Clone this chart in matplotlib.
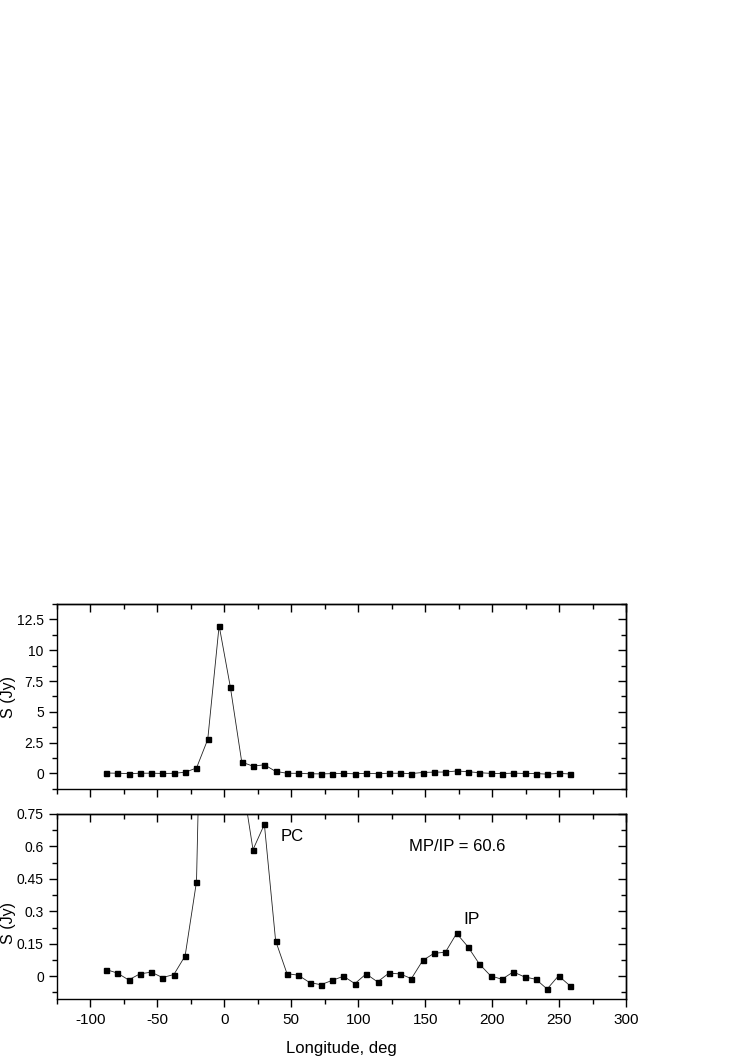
import matplotlib
matplotlib.use("Agg")
import matplotlib.pyplot as plt
from matplotlib.ticker import MultipleLocator

plt.rcParams['font.family'] = ['Liberation Sans', 'DejaVu Sans']

# pulse profile: longitude (deg) and flux density (Jy)
longitude = [-88.4, -80.0, -71.5, -63.1, -54.6, -46.2, -37.7, -29.3, -20.8, -12.4,
             -3.9, 4.5, 13.0, 21.4, 29.9, 38.3, 46.8, 55.2, 63.7, 72.1,
             80.6, 89.0, 97.5, 105.9, 114.4, 122.8, 131.3, 139.7, 148.2, 156.6,
             165.1, 173.5, 182.0, 190.4, 198.9, 207.3, 215.8, 224.2, 232.7, 241.1,
             249.6, 258.0]
flux = [0.031, 0.015, -0.017, 0.011, 0.019, -0.006, 0.008, 0.094, 0.437, 2.76,
        12.0, 7.0, 0.92, 0.585, 0.702, 0.164, 0.012, 0.005, -0.029, -0.039,
        -0.019, 0.0, -0.034, 0.011, -0.026, 0.014, 0.011, -0.011, 0.073, 0.106,
        0.111, 0.198, 0.136, 0.057, 0.002, -0.014, 0.020, -0.003, -0.014, -0.059,
        0.002, -0.043]

x_ticks = [-100, -50, 0, 50, 100, 150, 200, 250, 300]


def style_axes(ax, ymajor, yminor, show_xlabels):
    ax.set_xlim(-125, 300)
    ax.xaxis.set_major_locator(MultipleLocator(50))
    ax.xaxis.set_minor_locator(MultipleLocator(25))
    ax.yaxis.set_major_locator(MultipleLocator(ymajor))
    ax.yaxis.set_minor_locator(MultipleLocator(yminor))
    ax.tick_params(which='major', direction='out', length=6, width=1, pad=4)
    ax.tick_params(which='minor', direction='out', length=3.5, width=1)
    ax.tick_params(axis='x', labelsize=11, labelbottom=show_xlabels)
    ax.tick_params(axis='y', labelsize=10, pad=3.5)
    for sp in ax.spines.values():
        sp.set_linewidth(1.0)
    # top and right ticks point inwards
    sx = ax.secondary_xaxis('top')
    sx.xaxis.set_major_locator(MultipleLocator(50))
    sx.xaxis.set_minor_locator(MultipleLocator(25))
    sx.tick_params(which='major', direction='in', length=6, width=1, labeltop=False)
    sx.tick_params(which='minor', direction='in', length=3.5, width=1)
    sy = ax.secondary_yaxis('right')
    sy.yaxis.set_major_locator(MultipleLocator(ymajor))
    sy.yaxis.set_minor_locator(MultipleLocator(yminor))
    sy.tick_params(which='major', direction='in', length=6, width=1, labelright=False)
    sy.tick_params(which='minor', direction='in', length=3.5, width=1)
    for s in (sx, sy):
        for sp in s.spines.values():
            sp.set_linewidth(1.0)


fig = plt.figure(figsize=(7.47, 10.56), dpi=100)
ax_top = fig.add_axes([0.0763, 0.2528, 0.7617, 0.1752])
ax_bot = fig.add_axes([0.0763, 0.054, 0.7617, 0.1752])

for ax in (ax_top, ax_bot):
    ax.plot(longitude, flux, color='#222222', linewidth=0.6, marker='s',
            markersize=3.6, markerfacecolor='black', markeredgecolor='black')

ax_top.set_ylim(-1.27, 13.75)
style_axes(ax_top, 2.5, 1.25, False)
ax_top.set_yticks([0, 2.5, 5, 7.5, 10, 12.5])
ax_top.set_yticklabels(['0', '2.5', '5', '7.5', '10', '12.5'])
ax_top.set_ylabel('S (Jy)', fontsize=11.5)
ax_top.yaxis.set_label_coords(-0.072, 0.5)

ax_bot.set_ylim(-0.105, 0.75)
style_axes(ax_bot, 0.15, 0.075, True)
ax_bot.set_yticks([0, 0.15, 0.3, 0.45, 0.6, 0.75])
ax_bot.set_yticklabels(['0', '0.15', '0.3', '0.45', '0.6', '0.75'])
ax_bot.set_xticks(x_ticks)
ax_bot.set_xticklabels([str(v) for v in x_ticks])
ax_bot.set_ylabel('S (Jy)', fontsize=11.5)
ax_bot.yaxis.set_label_coords(-0.072, 0.41)
ax_bot.set_xlabel('Longitude, deg', fontsize=12, labelpad=10)

ax_bot.text(42.3, 0.646, 'PC', fontsize=12, ha='left', va='center')
ax_bot.text(137.9, 0.60, 'MP/IP = 60.6', fontsize=12, ha='left', va='center')
ax_bot.text(184.7, 0.261, 'IP', fontsize=12.5, ha='center', va='center')

fig.savefig('out.png', dpi=100)
